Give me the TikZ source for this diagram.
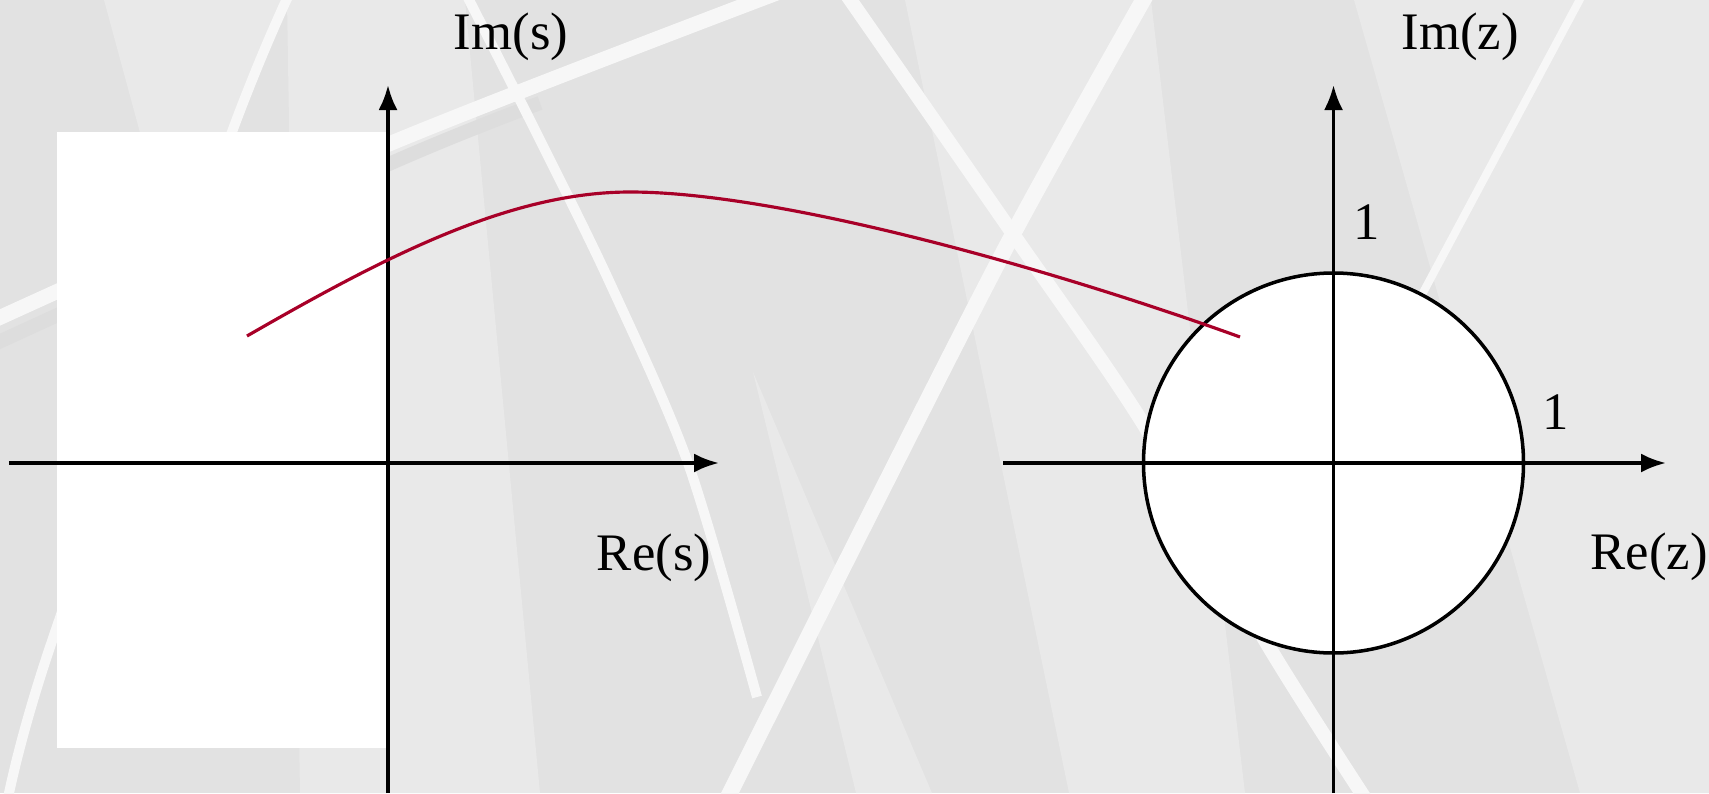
\documentclass[tikz,border=0pt]{standalone}
\usepackage{fontspec}
\setmainfont{Liberation Serif}
\usetikzlibrary{arrows.meta, calc}
\definecolor{BgGray}{RGB}{226,226,226}
\definecolor{BgLight}{RGB}{233,233,233}
\definecolor{BgDark}{RGB}{221,221,221}
\definecolor{StripeWhite}{RGB}{247,247,247}
\definecolor{MapRed}{RGB}{168,0,40}

\begin{document}
\begin{tikzpicture}[
    axis/.style={line width=1pt, draw=black, -{Latex[length=2.5mm, width=1.9mm]}},
    mapcurve/.style={line width=0.9pt, draw=MapRed},
    stripe/.style={draw=StripeWhite, line cap=butt},
    band/.style={fill=BgLight},
    lbl/.style={anchor=base, font=\fontsize{15}{18}\selectfont, inner sep=0pt}
]
    \useasboundingbox (0,0) rectangle (17.09,7.93);

    % background bands and stripes
    \begin{scope}
        \clip (0,0) rectangle (17.09,7.93);
        \fill[BgGray] (0,0) rectangle (17.09,7.93);
        \fill[band] (1.04,7.93) -- (2.87,7.93) -- (2.29,6.53) -- (1.42,6.53) -- cycle;
        \fill[band] (2.87,7.93) -- (4.65,7.93) -- (5.40,0) -- (3.00,0) -- cycle;
        \fill[band] (9.05,7.93) -- (11.51,7.93) -- (12.45,0) -- (10.69,0) -- cycle;
        \fill[band] (13.54,7.93) -- (17.09,7.93) -- (17.09,0) -- (15.80,0) -- cycle;
        \fill[band] (7.53,4.21) -- (9.32,0) -- (8.56,0) -- cycle;
        \draw[draw=BgDark, line width=0.14cm] plot[smooth] coordinates {(-0.1,4.47) (3.89,6.29) (5.4,6.90)};
        \draw[stripe, line width=0.10cm] plot[smooth] coordinates {(2.92,8.05) (2.29,6.53) (0.49,1.43) (0.07,-0.1)};
        \draw[stripe, line width=0.15cm] plot[smooth] coordinates {(-0.1,4.71) (3.89,6.49) (7.90,8.05)};
        \draw[stripe, line width=0.10cm] plot[smooth] coordinates {(4.63,8.05) (5.40,6.53) (6.10,5.10) (6.88,3.30) (7.57,0.96)};
        \draw[stripe, line width=0.16cm] plot[smooth] coordinates {(11.50,8.05) (10.13,5.59) (8.71,2.81) (7.25,-0.1)};
        \draw[stripe, line width=0.14cm] plot[smooth] coordinates {(8.42,8.05) (10.13,5.59) (11.44,3.68) (12.66,1.51) (13.68,-0.1)};
        \draw[stripe, line width=0.08cm] (15.86,8.05) -- (13.80,4.20);
    \end{scope}

    % s-plane
    \fill[white] (0.57,0.45) rectangle (3.88,6.61);
    \coordinate (so) at (3.88,3.30);
    \coordinate (sxl) at (0.09,3.30);
    \coordinate (sxr) at (7.19,3.30);
    \coordinate (syb) at (3.88,0);
    \coordinate (syt) at (3.88,7.08);
    \draw[axis] (sxl) -- (sxr);
    \draw[axis] (syb) -- (syt);
    \node[lbl] (ims) at (5.11,7.44) {Im(s)};
    \node[lbl] (res) at (6.54,2.23) {Re(s)};

    % z-plane
    \coordinate (zo) at (13.335,3.30);
    \coordinate (zxl) at (10.03,3.30);
    \coordinate (zxr) at (16.66,3.30);
    \coordinate (zyb) at (13.335,0);
    \coordinate (zyt) at (13.335,7.08);
    \filldraw[fill=white, draw=black, line width=1pt] (zo) circle (1.90);
    \draw[axis] (zxl) -- (zxr);
    \draw[axis] (zyb) -- (zyt);
    \node[lbl] (imz) at (14.60,7.44) {Im(z)};
    \node[lbl] (rez) at (16.49,2.24) {Re(z)};
    \node[lbl] (oneim) at (13.67,5.54) {1};
    \node[lbl] (onere) at (15.56,3.64) {1};

    % mapping s -> z
    \coordinate (sp) at (2.47,4.57);
    \coordinate (peak) at (6.30,6.01);
    \coordinate (zp) at (12.40,4.56);
    \draw[mapcurve] (sp) .. controls (3.86,5.37) and (5.10,6.01) .. (peak)
                         .. controls (7.80,6.01) and (10.52,5.24) .. (zp);
\end{tikzpicture}
\end{document}
